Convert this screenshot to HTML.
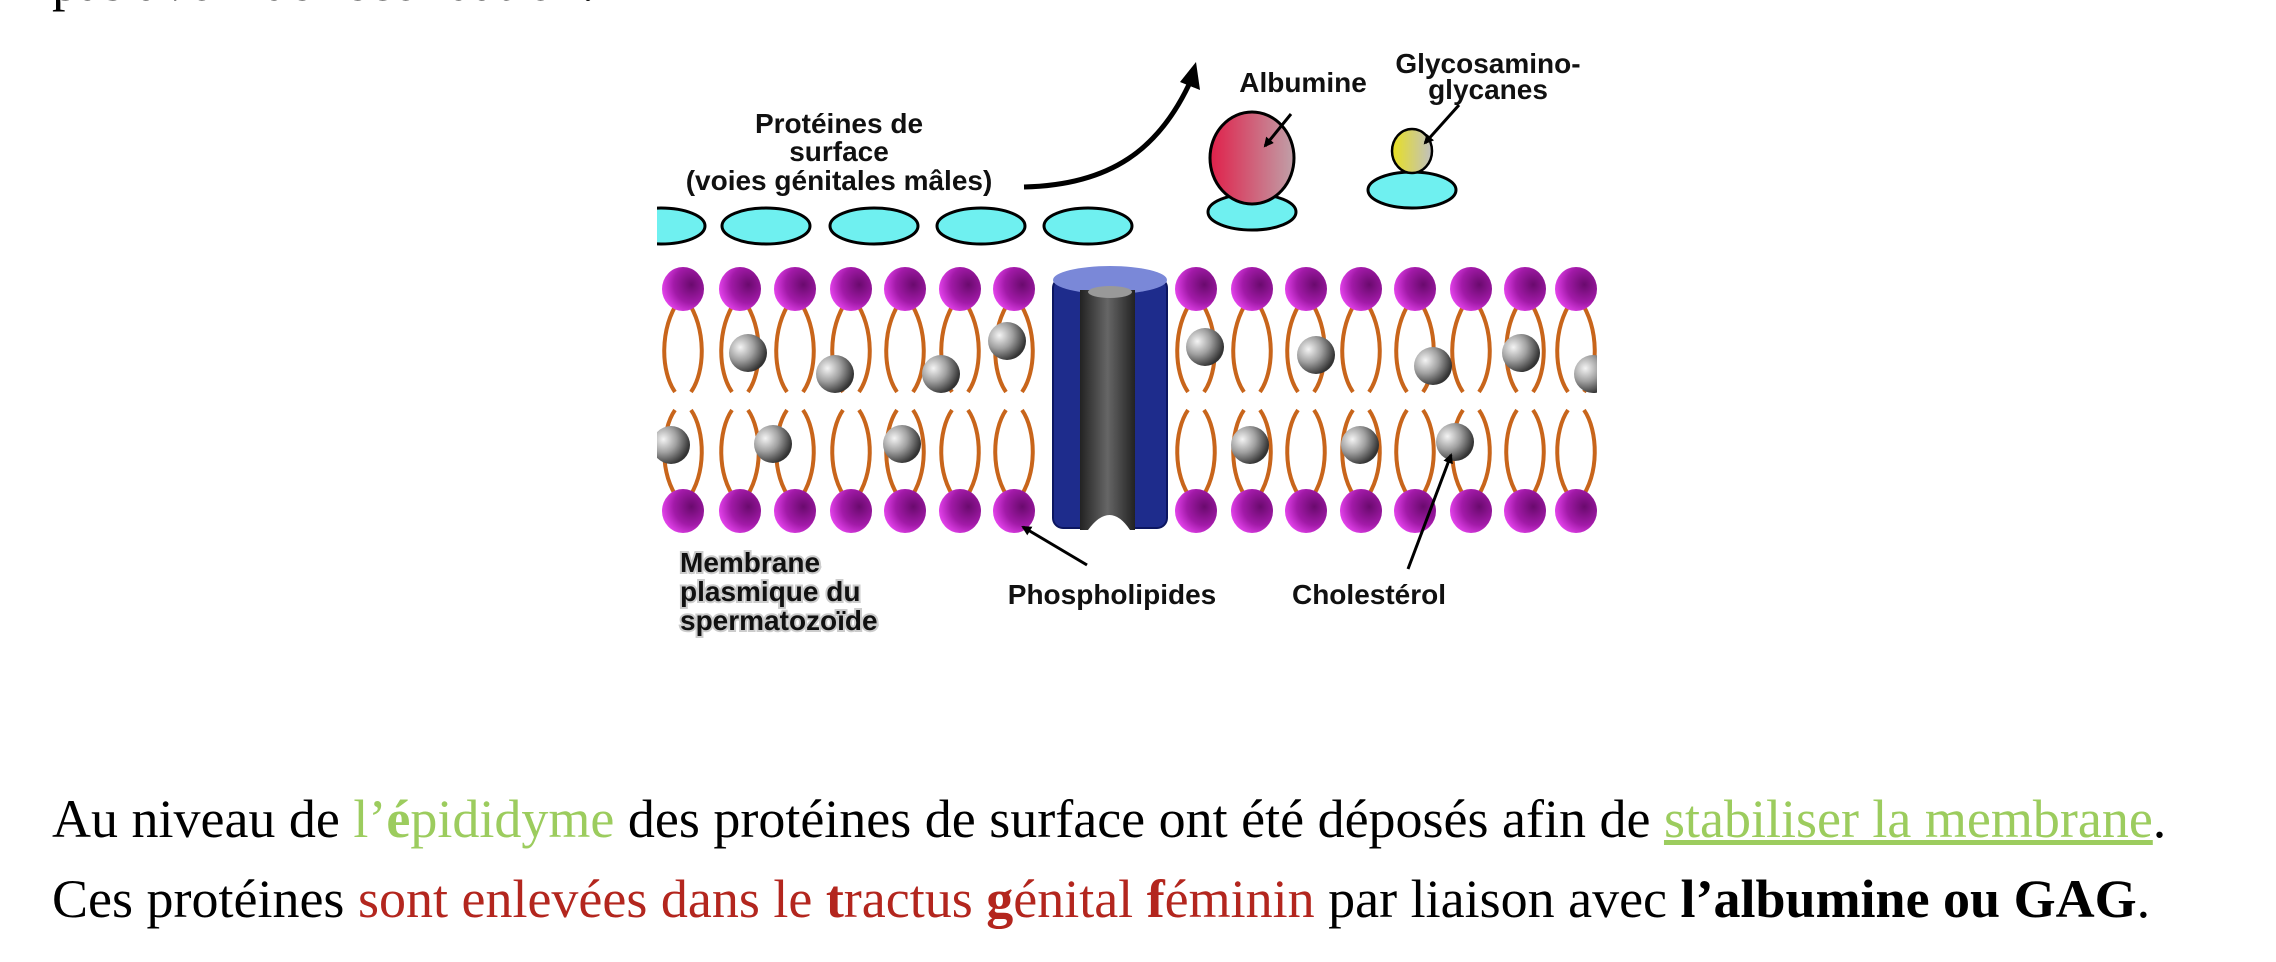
<!DOCTYPE html>
<html><head><meta charset="utf-8"><style>
html,body{margin:0;padding:0;background:#fff;}
body{width:2276px;height:962px;position:relative;overflow:hidden;}
.t{position:absolute;left:52px;font-family:"Liberation Serif",serif;font-size:54px;white-space:nowrap;color:#000;}
.g{color:#9ccc5e}.r{color:#b3261e}
</style></head><body>
<div class="t" style="top:-49px">pas avoir de fécondation.</div>
<svg width="2276" height="962" style="position:absolute;left:0;top:0" xmlns="http://www.w3.org/2000/svg">
<defs>
<radialGradient id="ph" cx="0.7" cy="0.4" r="0.7"><stop offset="0" stop-color="#6a0a6e"/><stop offset="0.6" stop-color="#a21aa8"/><stop offset="1" stop-color="#e040e8"/></radialGradient>
<radialGradient id="ch" cx="0.3" cy="0.35" r="0.7"><stop offset="0" stop-color="#f4f4f4"/><stop offset="0.5" stop-color="#a0a0a0"/><stop offset="1" stop-color="#333"/></radialGradient>
<linearGradient id="al" x1="0" x2="1"><stop offset="0" stop-color="#e0204a"/><stop offset="1" stop-color="#c0a0a8"/></linearGradient>
<linearGradient id="gy" x1="0" x2="1"><stop offset="0" stop-color="#e8e020"/><stop offset="1" stop-color="#c0c0c0"/></linearGradient>
<linearGradient id="in" x1="0" x2="1"><stop offset="0" stop-color="#222"/><stop offset="0.5" stop-color="#666"/><stop offset="1" stop-color="#222"/></linearGradient>
<clipPath id="cl"><rect x="657" y="0" width="940" height="700"/></clipPath>
<marker id="ar" markerWidth="10" markerHeight="10" refX="8" refY="5" orient="auto" markerUnits="userSpaceOnUse"><path d="M0,0 L10,5 L0,10 z" fill="#000"/></marker>
</defs>
<g clip-path="url(#cl)">
<g fill="#6ff0f0" stroke="#000" stroke-width="3">
<ellipse cx="661" cy="226" rx="44" ry="18"/><ellipse cx="766" cy="226" rx="44" ry="18"/><ellipse cx="874" cy="226" rx="44" ry="18"/><ellipse cx="981" cy="226" rx="44" ry="18"/><ellipse cx="1088" cy="226" rx="44" ry="18"/>
<ellipse cx="1252" cy="212" rx="44" ry="18"/><ellipse cx="1412" cy="190" rx="44" ry="18"/>
</g>
<ellipse cx="1252" cy="158" rx="42" ry="46" fill="url(#al)" stroke="#000" stroke-width="3"/>
<ellipse cx="1412" cy="151" rx="20" ry="22" fill="url(#gy)" stroke="#000" stroke-width="2.5"/>
<path d="M1024,187 C1110,185 1160,150 1192,78" fill="none" stroke="#000" stroke-width="5" marker-end="url(#ar)"/>
<path d="M1180,82 L1196,62 L1200,90 z" fill="#000"/>
<g fill="none" stroke="#c8651b" stroke-width="4" id="tails">
</g>
<g id="lip"></g>
<rect x="1053" y="278" width="114" height="250" rx="10" fill="#1e2c8c" stroke="#0c1660" stroke-width="2"/>
<ellipse cx="1110" cy="280" rx="57" ry="14" fill="#7a88d8"/>
<rect x="1080" y="290" width="55" height="240" fill="url(#in)"/>
<ellipse cx="1110" cy="292" rx="22" ry="6" fill="#999"/>
<path d="M1088,530 Q1110,500 1130,530 z" fill="#fff"/>
</g>
<g fill="#000" stroke="#000" stroke-width="3">
<line x1="1291" y1="114" x2="1265" y2="146" marker-end="url(#ar)"/>
<line x1="1459" y1="105" x2="1425" y2="143" marker-end="url(#ar)"/>
<line x1="1087" y1="565" x2="1023" y2="527" marker-end="url(#ar)"/>
<line x1="1408" y1="569" x2="1451" y2="455" marker-end="url(#ar)"/>
</g>
<g font-family="Liberation Sans,sans-serif" font-weight="bold" font-size="28" fill="#111" text-anchor="middle">
<text x="839" y="133">Protéines de</text><text x="839" y="161">surface</text><text x="839" y="190">(voies génitales mâles)</text>
<text x="1303" y="92">Albumine</text>
<text x="1488" y="73">Glycosamino-</text><text x="1488" y="99">glycanes</text>
<text x="1112" y="604">Phospholipides</text>
<text x="1369" y="604">Cholestérol</text>
<g text-anchor="start" style="paint-order:stroke" stroke="#ccc" stroke-width="4"><text x="680" y="572">Membrane</text><text x="680" y="601">plasmique du</text><text x="680" y="630">spermatozoïde</text></g>
</g>
</svg>
<div class="t" style="top:788px">Au niveau de <span class="g">l’<b>é</b>pididyme</span> des protéines de surface ont été déposés afin de <span class="g" style="text-decoration:underline">stabiliser la membrane</span>.</div>
<div class="t" style="top:868px">Ces protéines <span class="r">sont enlevées dans le <b>t</b>ractus <b>g</b>énital <b>f</b>éminin</span> par liaison avec <b>l’albumine ou GAG</b>.</div>
<script>
var xs=[683,740,795,851,905,960,1014,1196,1252,1306,1361,1415,1471,1525,1576];
var ns="http://www.w3.org/2000/svg",T=document.getElementById('tails'),L=document.getElementById('lip');
function el(p,n,a){var e=document.createElementNS(ns,n);for(var k in a)e.setAttribute(k,a[k]);p.appendChild(e);return e;}
xs.forEach(function(x){
 el(T,'path',{d:'M'+(x-4)+',300 C'+(x-24)+',330 '+(x-22)+',372 '+(x-8)+',392 M'+(x+4)+',300 C'+(x+24)+',330 '+(x+22)+',372 '+(x+8)+',392'});
 el(T,'path',{d:'M'+(x-8)+',410 C'+(x-22)+',430 '+(x-24)+',475 '+(x-4)+',500 M'+(x+8)+',410 C'+(x+22)+',430 '+(x+24)+',475 '+(x+4)+',500'});
 el(L,'ellipse',{cx:x,cy:289,rx:21,ry:22,fill:'url(#ph)'});
 el(L,'ellipse',{cx:x,cy:511,rx:21,ry:22,fill:'url(#ph)'});
});
[[748,353],[835,374],[941,374],[1007,341],[1205,347],[1316,355],[1433,366],[1521,353],[1593,374],[671,445],[773,444],[902,444],[1250,445],[1360,445],[1455,442]].forEach(function(c){
 el(L,'circle',{cx:c[0],cy:c[1],r:19,fill:'url(#ch)'});
});
</script>
</body></html>
